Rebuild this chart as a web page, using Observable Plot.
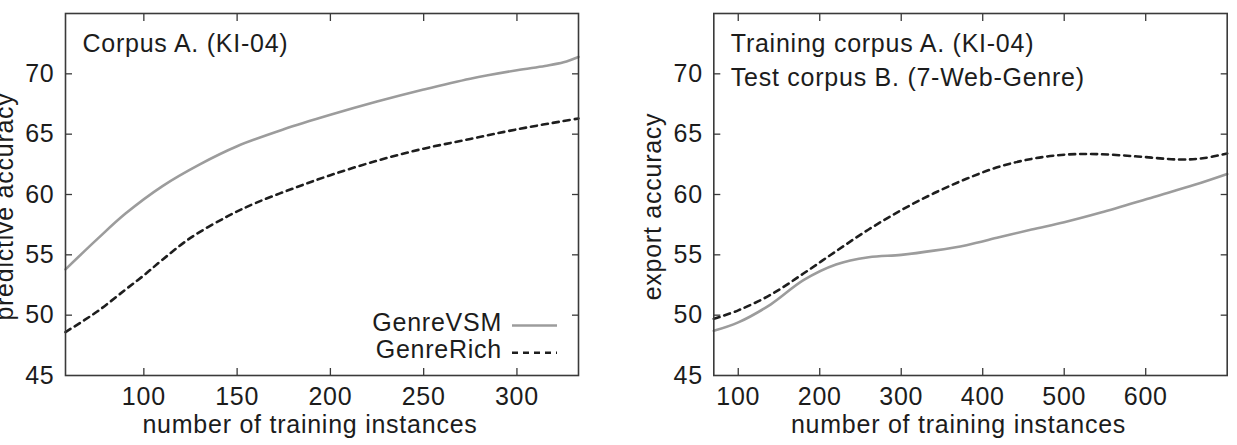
<!DOCTYPE html>
<html>
<head>
<meta charset="utf-8">
<script src="https://cdn.jsdelivr.net/npm/d3@7"></script>
<script src="https://cdn.jsdelivr.net/npm/@observablehq/plot@0.6"></script>
<style>
  body { margin: 0; background: #fff; }
  #fig { position: relative; width: 1237px; height: 445px; overflow: hidden; }
  #fig > svg { position: absolute; top: 0; }
</style>
</head>
<body>
<div id="fig"></div>
<script>
// Learning curves: accuracy vs. number of training instances.
const series = ["GenreVSM", "GenreRich"];
const yTicks = [45, 50, 55, 60, 65, 70];

// Left panel — Corpus A. (KI-04), predictive accuracy
const leftXTicks = [100, 150, 200, 250, 300];
const leftN = [58, 75, 90, 110, 130, 150, 175, 200, 225, 250, 275, 300, 315, 325, 333];
const leftVSM = [53.8, 56.3, 58.4, 60.7, 62.5, 64.0, 65.4, 66.6, 67.7, 68.7, 69.6, 70.3, 70.65, 70.95, 71.4];
const leftRichN = [58, 75, 90, 100, 110, 125, 145, 160, 180, 200, 225, 250, 275, 300, 333];
const leftRich = [48.6, 50.3, 52.1, 53.3, 54.6, 56.4, 58.2, 59.3, 60.5, 61.6, 62.8, 63.8, 64.6, 65.4, 66.3];

// Right panel — trained on corpus A., tested on corpus B., export accuracy
const rightXTicks = [100, 200, 300, 400, 500, 600];
const rightN = [70, 100, 140, 180, 220, 260, 300, 340, 380, 420, 460, 500, 545, 610, 660, 700];
const rightVSM = [48.7, 49.4, 50.9, 52.9, 54.2, 54.8, 55.0, 55.35, 55.8, 56.45, 57.1, 57.7, 58.5, 59.8, 60.8, 61.7];
const rightRichN = [70, 100, 140, 180, 220, 260, 300, 340, 380, 420, 460, 500, 540, 590, 640, 670, 700];
const rightRich = [49.7, 50.4, 51.7, 53.45, 55.3, 57.1, 58.7, 60.1, 61.3, 62.3, 62.95, 63.3, 63.35, 63.15, 62.9, 63.0, 63.4];

const FONT = '"Liberation Sans", Helvetica, Arial, sans-serif';
const INK = "#1c1c1c";
const FRAME = "#3a3a3a";
const styles = {
  GenreVSM: { stroke: "#9c9c9c", strokeWidth: 2.6, strokeDasharray: null },
  GenreRich: { stroke: "#1e1e1e", strokeWidth: 2.6, strokeDasharray: "6,5" }
};

const toRows = (ns, vs) => ns.map((n, i) => ({ n, acc: vs[i] }));

function panel({ curves, xDomain, xTicks, width, marginLeft, marginRight, xLabel, yLabel, notes }) {
  const inner = yTicks.slice(1);
  return Plot.plot({
    width, height: 445,
    marginLeft, marginRight, marginTop: 13, marginBottom: 70,
    style: { fontFamily: FONT, fontSize: "25px", letterSpacing: "0.75px", color: INK, background: "transparent", overflow: "visible" },
    x: { domain: xDomain },
    y: { domain: [45, 75] },
    marks: [
      ...series.map(s => Plot.line(curves[s], {
        x: "n", y: "acc", curve: "catmull-rom", ...styles[s]
      })),
      // tick labels
      Plot.axisX(xTicks, { anchor: "bottom", tickSize: 0, tickPadding: 12, label: null, fill: INK }),
      Plot.axisY(yTicks, { anchor: "left", tickSize: 0, tickPadding: 11, label: null, fill: INK }),
      // inward tick marks on all four sides
      Plot.axisX(xTicks, { anchor: "bottom", tickSize: 7, dy: -7, fill: "none", label: null, stroke: FRAME, strokeWidth: 1.3 }),
      Plot.axisX(xTicks, { anchor: "top", tickSize: 7, dy: 7, fill: "none", label: null, stroke: FRAME, strokeWidth: 1.3 }),
      Plot.axisY(inner, { anchor: "left", tickSize: 7, dx: 7, fill: "none", label: null, stroke: FRAME, strokeWidth: 1.3 }),
      Plot.axisY(inner, { anchor: "right", tickSize: 7, dx: -7, fill: "none", label: null, stroke: FRAME, strokeWidth: 1.3 }),
      Plot.frame({ stroke: FRAME, strokeWidth: 1.6 }),
      // axis titles
      Plot.text([xLabel], { text: d => d, frameAnchor: "bottom", dx: -12, dy: 57.7, lineAnchor: "bottom", fill: INK }),
      Plot.text([yLabel], { text: d => d, frameAnchor: "left", rotate: -90, dx: -53, dy: 12, lineAnchor: "bottom", textAnchor: "middle", fill: INK }),
      // corner notes
      ...notes.map((t, i) => Plot.text([t], {
        text: d => d, frameAnchor: "top-left", dx: 17, dy: 38.7 + i * 33.3,
        lineAnchor: "bottom", textAnchor: "start", fill: INK
      }))
    ]
  });
}

const fig = document.getElementById("fig");

const left = panel({
  curves: { GenreVSM: toRows(leftN, leftVSM), GenreRich: toRows(leftRichN, leftRich) },
  xDomain: [58, 333], xTicks: leftXTicks,
  width: 600, marginLeft: 65, marginRight: 22,
  xLabel: "number of training instances", yLabel: "predictive accuracy",
  notes: ["Corpus A. (KI-04)"]
});
left.style.left = "0px";
fig.appendChild(left);

const right = panel({
  curves: { GenreVSM: toRows(rightN, rightVSM), GenreRich: toRows(rightRichN, rightRich) },
  xDomain: [70, 700], xTicks: rightXTicks,
  width: 617, marginLeft: 93.3, marginRight: 10.3,
  xLabel: "number of training instances", yLabel: "export accuracy",
  notes: ["Training corpus A. (KI-04)", "Test corpus B. (7-Web-Genre)"]
});
right.style.left = "620px";
fig.appendChild(right);

// Legend for the left panel: labels right-aligned, line samples to their right
const legend = d3.select(fig).append("svg")
  .attr("width", 1237).attr("height", 445)
  .style("left", "0px")
  .style("letter-spacing", "0.75px")
  .attr("font-family", FONT).attr("font-size", 25).attr("fill", INK);
series.forEach((s, i) => {
  const base = 331 + i * 27.3;
  legend.append("text").attr("x", 502).attr("y", base).attr("text-anchor", "end").text(s);
  legend.append("line")
    .attr("x1", 512).attr("x2", 557).attr("y1", base - 5.5).attr("y2", base - 5.5)
    .attr("stroke", styles[s].stroke).attr("stroke-width", styles[s].strokeWidth)
    .attr("stroke-dasharray", styles[s].strokeDasharray);
});
</script>
</body>
</html>
